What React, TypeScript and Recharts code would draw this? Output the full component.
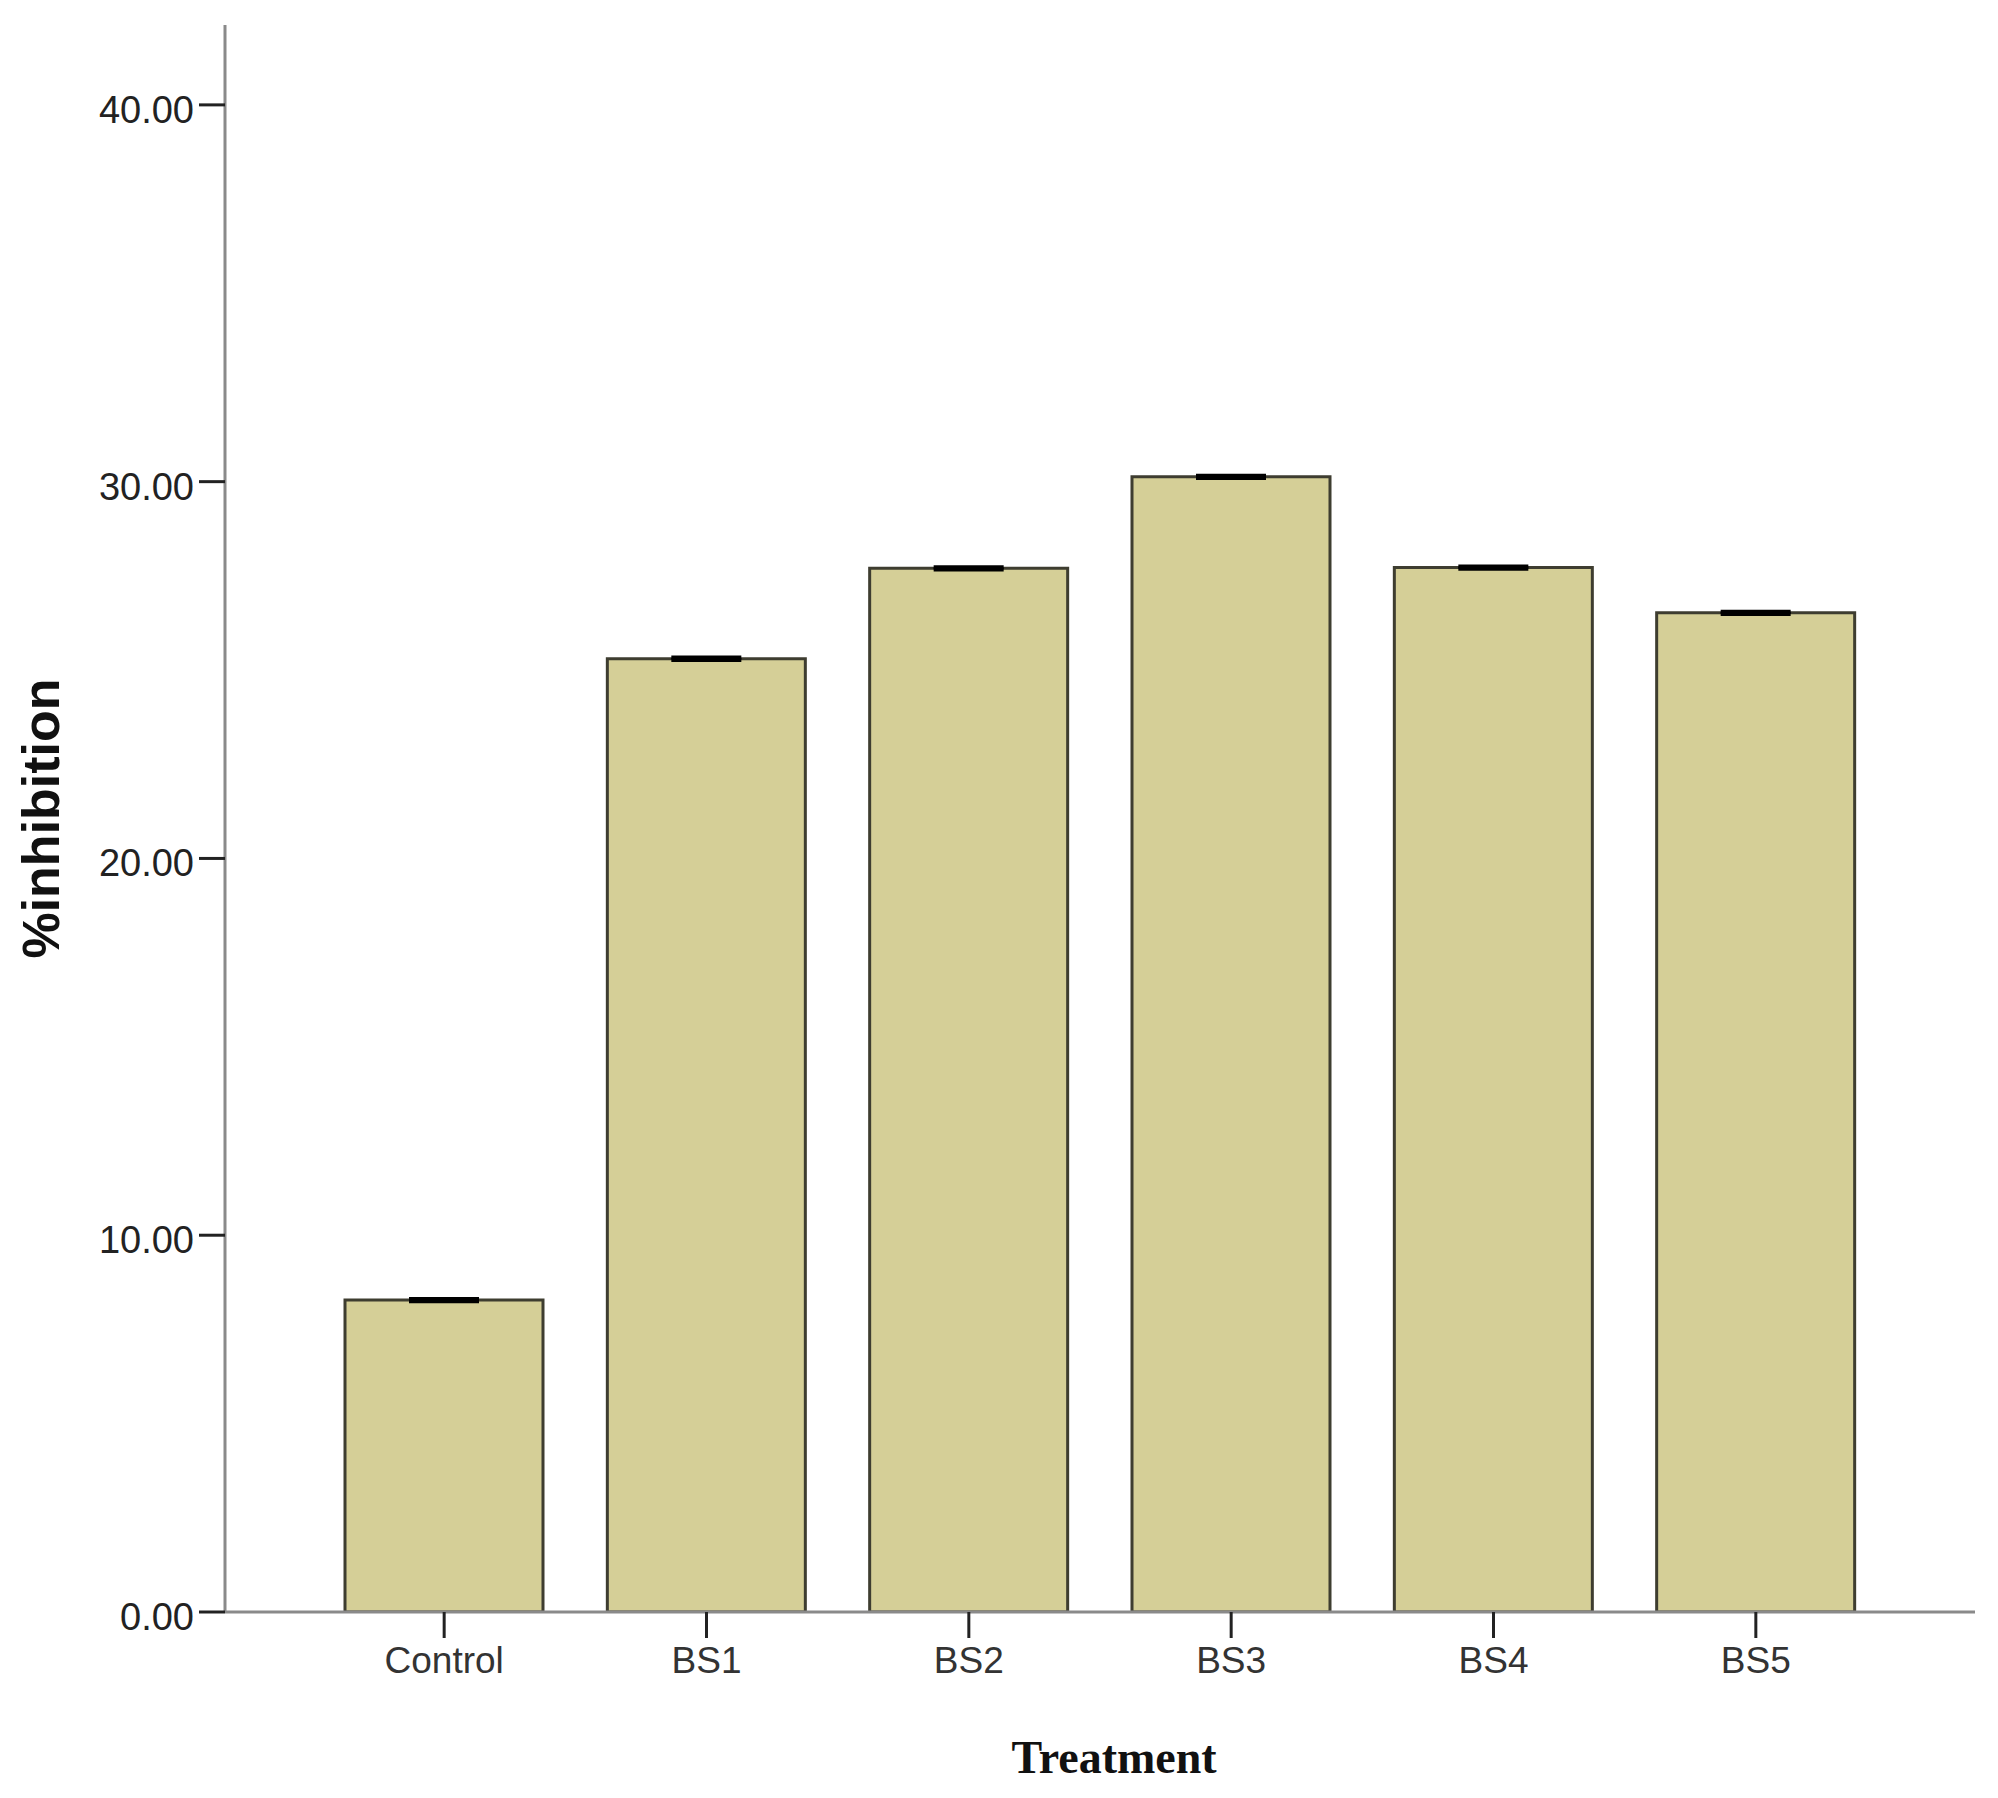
import React from "react";
import { BarChart, Bar, XAxis, YAxis, ErrorBar, Label } from "recharts";

const categories = ["Control", "BS1", "BS2", "BS3", "BS4", "BS5"];
const inhibition = [8.28, 25.3, 27.7, 30.13, 27.72, 26.52];
const errors = [0.03, 0.03, 0.03, 0.03, 0.03, 0.03];
const yTicks = [0, 10, 20, 30, 40];

const data = categories.map((name, i) => ({
  name,
  value: inhibition[i],
  err: errors[i],
}));

const YTick = (props: any) => {
  const { x, y, payload } = props;
  return (
    <text
      x={x}
      y={y}
      dy={18}
      textAnchor="end"
      fontFamily="'Liberation Sans', Arial, sans-serif"
      fontSize={38}
      fill="#222"
    >
      {Number(payload.value).toFixed(2)}
    </text>
  );
};

export default function App() {
  return (
    <div style={{ position: "absolute", left: 0, top: 0, background: "#fff" }}>
      <BarChart
        width={1998}
        height={1798}
        data={data}
        margin={{ top: 25, right: 23, bottom: 106, left: 0 }}
      >
        <XAxis
          dataKey="name"
          height={80}
          padding={{ left: 88, right: 88 }}
          axisLine={{ stroke: "#8a8a8a", strokeWidth: 3 }}
          tickLine={{ stroke: "#222", strokeWidth: 3 }}
          tickSize={26}
          tickMargin={9}
          tick={{
            fontFamily: "'Liberation Sans', Arial, sans-serif",
            fontSize: 37,
            fill: "#333",
          }}
        >
          <Label
            value="Treatment"
            position="bottom"
            offset={0}
            dx={14}
            dy={48}
            style={{
              fontFamily: "'Liberation Serif', 'Times New Roman', serif",
              fontWeight: "bold",
              fontSize: 46,
              fill: "#111",
            }}
          />
        </XAxis>
        <YAxis
          width={225}
          domain={[0, 42.12]}
          ticks={yTicks}
          allowDataOverflow
          axisLine={{ stroke: "#8a8a8a", strokeWidth: 3 }}
          tickLine={{ stroke: "#222", strokeWidth: 3 }}
          tickSize={26}
          tickMargin={5}
          tick={YTick}
        >
          <Label
            value="%inhibition"
            angle={-90}
            position="insideLeft"
            offset={0}
            dx={41}
            style={{
              fontFamily: "'Liberation Sans', Arial, sans-serif",
              fontWeight: "bold",
              fontSize: 52,
              fill: "#111",
              textAnchor: "middle",
            }}
          />
        </YAxis>
        <Bar
          dataKey="value"
          barSize={198}
          fill="#d5cf97"
          stroke="#3e3d30"
          strokeWidth={3}
          isAnimationActive={false}
        >
          <ErrorBar
            dataKey="err"
            width={35}
            stroke="#000"
            strokeWidth={4}
            isAnimationActive={false}
          />
        </Bar>
      </BarChart>
    </div>
  );
}
